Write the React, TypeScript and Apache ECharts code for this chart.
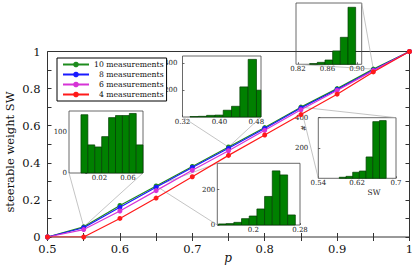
import React, { useEffect, useRef } from 'react';
import * as echarts from 'echarts';

const FONT = 'DejaVu Serif';

// main chart data
const pValues = [0.5, 0.55, 0.6, 0.65, 0.7, 0.75, 0.8, 0.85, 0.9, 0.95, 1];
const sw10 = [0, 0.055, 0.17, 0.275, 0.38, 0.485, 0.59, 0.7, 0.8, 0.905, 1];
const sw8 = [0, 0.05, 0.16, 0.268, 0.375, 0.478, 0.585, 0.695, 0.795, 0.9, 1];
const sw6 = [0, 0.04, 0.14, 0.25, 0.36, 0.465, 0.575, 0.686, 0.79, 0.897, 1];
const sw4 = [0, 0, 0.1, 0.21, 0.325, 0.44, 0.55, 0.66, 0.77, 0.89, 1];
const seriesNames = ['10 measurements', '\u20078 measurements', '\u20076 measurements', '\u20074 measurements'];
const seriesColors = ['#1e8c1e', '#1a1aff', '#d633d6', '#ff1a1a'];
const xTicksMain = [0.5, 0.6, 0.7, 0.8, 0.9, 1];
const yTicksMain = [0, 0.2, 0.4, 0.6, 0.8, 1];

// histogram data (counts per bin)
const hist1Counts = [141, 68, 63, 88, 134, 139, 139, 144, 68];
const hist1Start = -0.006;
const hist1Width = 0.0097;
const hist2Counts = [3, 5, 12, 14, 50, 79, 222, 425, 198];
const hist2Start = 0.3362;
const hist2Width = 0.018;
const hist3Counts = [6, 8, 15, 36, 51, 91, 162, 307, 284, 57];
const hist3Start = 0.14;
const hist3Width = 0.0132;
const hist4Counts = [7, 13, 40, 48, 141, 374, 381];
const hist4Start = 0.5832;
const hist4Width = 0.0138;
const hist5Counts = [6, 16, 35, 109, 220, 465];
const hist5Start = 0.8358;
const hist5Width = 0.0104;

// inset tick labels
const inset1XTicks = [0.02, 0.06];
const inset1XText = ['0.02', '0.06'];
const inset1YTicks = [0, 100];
const inset2XTicks = [0.32, 0.4, 0.48];
const inset2XText = ['0.32', '0.40', '0.48'];
const inset2YTicks = [200, 400];
const inset3XTicks = [0.2, 0.28];
const inset3XText = ['0.2', '0.28'];
const inset3YTicks = [0, 200];
const inset4XTicks = [0.54, 0.62, 0.7];
const inset4XText = ['0.54', '0.62', '0.7'];
const inset4YTicks = [200, 400];
const inset5XTicks = [0.82, 0.86, 0.9];
const inset5XText = ['0.82', '0.86', '0.90'];
const inset5YTicks: number[] = [];

// which data point each inset belongs to (index into pValues)
const insetPointIndex = [1, 5, 3, 7, 9];

type Inset = {
  left: number; top: number; width: number; height: number;
  xMin: number; xMax: number; yMax: number;
  xTicks: number[]; xText: string[]; yTicks: number[]; yMargin: number;
  counts: number[]; start: number; binWidth: number;
  corners: string[];
};

const INSETS: Inset[] = [
  { left: 69, top: 111, width: 74, height: 62, xMin: -0.0228, xMax: 0.0811, yMax: 150,
    xTicks: inset1XTicks, xText: inset1XText, yTicks: inset1YTicks, yMargin: 2,
    counts: hist1Counts, start: hist1Start, binWidth: hist1Width, corners: ['bl', 'br'] },
  { left: 182.5, top: 56, width: 78.5, height: 61, xMin: 0.32, xMax: 0.49, yMax: 450,
    xTicks: inset2XTicks, xText: inset2XText, yTicks: inset2YTicks, yMargin: 5,
    counts: hist2Counts, start: hist2Start, binWidth: hist2Width, corners: ['bl', 'br'] },
  { left: 217.3, top: 163.3, width: 82.7, height: 61.7, xMin: 0.138, xMax: 0.28, yMax: 350,
    xTicks: inset3XTicks, xText: inset3XText, yTicks: inset3YTicks, yMargin: 2,
    counts: hist3Counts, start: hist3Start, binWidth: hist3Width, corners: ['tl', 'bl'] },
  { left: 318.3, top: 117.7, width: 77.7, height: 60.6, xMin: 0.54, xMax: 0.7, yMax: 400,
    xTicks: inset4XTicks, xText: inset4XText, yTicks: inset4YTicks, yMargin: 10,
    counts: hist4Counts, start: hist4Start, binWidth: hist4Width, corners: ['tr', 'bl'] },
  { left: 296, top: 3, width: 65.7, height: 61.3, xMin: 0.8173, xMax: 0.9064, yMax: 500,
    xTicks: inset5XTicks, xText: inset5XText, yTicks: inset5YTicks, yMargin: 2,
    counts: hist5Counts, start: hist5Start, binWidth: hist5Width, corners: ['tr', 'bl'] },
];

function cornerXY(ins: Inset, c: string): [number, number] {
  const x = c[1] === 'l' ? ins.left : ins.left + ins.width;
  const y = c[0] === 't' ? ins.top : ins.top + ins.height;
  return [x, y];
}

export default function App() {
  const ref = useRef<HTMLDivElement>(null);
  useEffect(() => {
    if (!ref.current) return;
    const chart = echarts.init(ref.current, undefined, { renderer: 'svg' });
    const seriesData = [sw10, sw8, sw6, sw4];

    const grids: any[] = [
      { left: 47.5, top: 51.5, width: 362, height: 185.5, show: true, borderColor: '#333', borderWidth: 1, backgroundColor: 'transparent', containLabel: false, outerBoundsMode: 'none' },
      ...INSETS.map((ins) => ({ left: ins.left, top: ins.top, width: ins.width, height: ins.height, show: true, borderColor: '#444', borderWidth: 0.8, backgroundColor: 'transparent', containLabel: false, outerBoundsMode: 'none' })),
    ];

    const tickStyle = { color: '#333', width: 1 };
    const xAxes: any[] = [
      { gridIndex: 0, type: 'value', min: 0.5, max: 1, interval: 0.1, position: 'bottom',
        axisLine: { show: false }, axisTick: { inside: true, length: 4, lineStyle: tickStyle },
        minorTick: { show: true, splitNumber: 2, length: 4, lineStyle: tickStyle },
        splitLine: { show: false }, minorSplitLine: { show: false },
        axisLabel: { fontFamily: FONT, fontSize: 11.5, color: '#111', margin: 6, customValues: xTicksMain } },
      { gridIndex: 0, type: 'value', min: 0.5, max: 1, interval: 0.1, position: 'top',
        axisLine: { show: false }, axisTick: { inside: true, length: 4, lineStyle: tickStyle },
        minorTick: { show: true, splitNumber: 2, length: 4, lineStyle: tickStyle },
        splitLine: { show: false }, axisLabel: { show: false } },
    ];
    const yAxes: any[] = [
      { gridIndex: 0, type: 'value', min: 0, max: 1, interval: 0.2, position: 'left',
        axisLine: { show: false }, axisTick: { inside: true, length: 4, lineStyle: tickStyle },
        minorTick: { show: true, splitNumber: 2, length: 4, lineStyle: tickStyle },
        splitLine: { show: false }, minorSplitLine: { show: false },
        axisLabel: { fontFamily: FONT, fontSize: 11.5, color: '#111', margin: 7, customValues: yTicksMain } },
      { gridIndex: 0, type: 'value', min: 0, max: 1, interval: 0.2, position: 'right',
        axisLine: { show: false }, axisTick: { inside: true, length: 4, lineStyle: tickStyle },
        minorTick: { show: true, splitNumber: 2, length: 4, lineStyle: tickStyle },
        splitLine: { show: false }, axisLabel: { show: false } },
    ];

    INSETS.forEach((ins, i) => {
      xAxes.push({
        gridIndex: i + 1, type: 'value', min: ins.xMin, max: ins.xMax,
        axisLine: { show: false },
        axisTick: { show: true, inside: true, length: 2, customValues: ins.xTicks, lineStyle: { color: '#444', width: 0.8 } },
        axisLabel: { show: true, customValues: ins.xTicks, showMinLabel: true, showMaxLabel: true,
          formatter: (v: number) => { const k = ins.xTicks.findIndex((t) => Math.abs(t - v) < 1e-9); return k >= 0 ? ins.xText[k] : ''; },
          fontFamily: FONT, fontSize: 7, color: '#222', margin: 1 },
        splitLine: { show: false },
      });
      yAxes.push({
        gridIndex: i + 1, type: 'value', min: 0, max: ins.yMax,
        axisLine: { show: false },
        axisTick: { show: ins.yTicks.length > 0, inside: true, length: 2, customValues: ins.yTicks, lineStyle: { color: '#444', width: 0.8 } },
        axisLabel: { show: ins.yTicks.length > 0, customValues: ins.yTicks, showMinLabel: true, showMaxLabel: true,
          fontFamily: FONT, fontSize: 7, color: '#222', margin: ins.yMargin },
        splitLine: { show: false },
      });
    });

    const series: any[] = [];
    // connectors
    series.push({
      type: 'custom', xAxisIndex: 0, yAxisIndex: 0, clip: false, silent: true, z: 1,
      data: insetPointIndex.map((idx, k) => [pValues[idx], sw10[idx], k]),
      renderItem: (params: any, api: any) => {
        const pt = api.coord([api.value(0), api.value(1)]);
        const ins = INSETS[api.value(2)];
        return {
          type: 'group',
          children: ins.corners.map((c) => {
            const [cx, cy] = cornerXY(ins, c);
            return { type: 'line', shape: { x1: pt[0], y1: pt[1], x2: cx, y2: cy }, style: { stroke: '#aaaaaa', lineWidth: 0.7 } };
          }),
        };
      },
    });
    // histograms
    INSETS.forEach((ins, i) => {
      series.push({
        type: 'custom', xAxisIndex: i + 2, yAxisIndex: i + 2, silent: true, z: 3,
        data: ins.counts.map((c, k) => [ins.start + k * ins.binWidth, ins.start + (k + 1) * ins.binWidth, c]),
        renderItem: (params: any, api: any) => {
          const a = api.coord([api.value(0), 0]);
          const b = api.coord([api.value(1), api.value(2)]);
          const cs = params.coordSys;
          const r = echarts.graphic.clipRectByRect(
            { x: a[0], y: b[1], width: b[0] - a[0], height: a[1] - b[1] },
            { x: cs.x, y: cs.y, width: cs.width, height: cs.height }
          );
          if (!r) return null;
          return { type: 'rect', shape: r, style: { fill: '#008000', stroke: '#003d00', lineWidth: 0.7 } };
        },
      });
    });
    // lines
    seriesData.forEach((arr, si) => {
      series.push({
        type: 'line', name: seriesNames[si], xAxisIndex: 0, yAxisIndex: 0, z: 5 + si,
        data: pValues.map((p, k) => [p, arr[k]]),
        symbol: 'circle', symbolSize: 5, showSymbol: true,
        lineStyle: { color: seriesColors[si], width: 1.2 },
        itemStyle: { color: seriesColors[si] },
      });
    });

    chart.setOption({
      animation: false,
      backgroundColor: '#ffffff',
      grid: grids,
      xAxis: xAxes,
      yAxis: yAxes,
      legend: {
        left: 57, top: 58, orient: 'vertical', itemWidth: 26, itemHeight: 7, itemGap: 2,
        padding: [2.5, 3, 2.5, 5], borderColor: '#000', borderWidth: 1, backgroundColor: '#fff',
        textStyle: { fontFamily: FONT, fontSize: 7.7, color: '#111' },
        data: seriesNames, selectedMode: false,
      },
      graphic: [
        { type: 'text', x: 10, y: 152, rotation: Math.PI / 2, style: { text: 'steerable weight SW', fontFamily: FONT, fontSize: 11.5, fill: '#111', textAlign: 'center', textVerticalAlign: 'middle' } },
        { type: 'text', x: 228, y: 258, style: { text: 'p', fontFamily: FONT, fontStyle: 'italic', fontSize: 12, fill: '#111', textAlign: 'center', textVerticalAlign: 'middle' } },
        { type: 'text', x: 374, y: 192, style: { text: 'SW', fontFamily: FONT, fontSize: 7.5, fill: '#222', textAlign: 'center', textVerticalAlign: 'middle' } },
        { type: 'text', x: 304, y: 128, rotation: Math.PI / 2, style: { text: '#', fontFamily: FONT, fontSize: 7, fill: '#222', textAlign: 'center', textVerticalAlign: 'middle' } },
      ],
      series,
    });
    return () => chart.dispose();
  }, []);
  return <div ref={ref} style={{ position: 'fixed', left: 0, top: 0, width: 415, height: 270 }} />;
}
